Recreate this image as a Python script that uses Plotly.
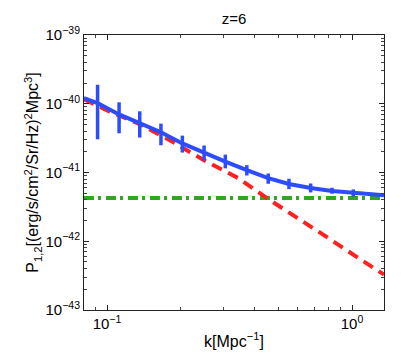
import plotly.graph_objects as go

# ---- data ----
k_points = [0.0915, 0.112, 0.136, 0.166, 0.203, 0.249, 0.304, 0.372, 0.455, 0.553, 0.678, 0.829, 1.012]
p_points = [1.02e-40, 7.0e-41, 5.3e-41, 3.85e-41, 2.65e-41, 1.92e-41, 1.44e-41, 1.08e-41,
            8.3e-42, 6.8e-42, 5.95e-42, 5.4e-42, 5.05e-42]
p_upper = [1.89e-40, 1.05e-40, 7.76e-41, 5.14e-41, 3.44e-41, 2.47e-41, 1.82e-41, 1.28e-41,
           9.67e-42, 8.11e-42, 6.92e-42, 6.0e-42, 5.67e-42]
p_lower = [3.04e-41, 3.72e-41, 3.22e-41, 2.49e-41, 1.95e-41, 1.49e-41, 1.15e-41, 9.04e-42,
           6.86e-42, 5.73e-42, 5.13e-42, 4.91e-42, 4.48e-42]

k_total = [0.0805] + k_points + [1.351]
p_total = [1.21e-40] + p_points + [4.67e-42]

k_red = [0.0805, 0.1, 0.1338, 0.1774, 0.2489, 0.3424, 0.454, 0.6019, 0.798, 1.058, 1.351]
p_red = [1.166e-40, 7.99e-41, 5.18e-41, 3.05e-41, 1.508e-41, 8.32e-42, 4.14e-42, 2.19e-42,
         1.12e-42, 5.74e-43, 3.27e-43]

k_green = [0.0805, 1.351]
p_green = [4.26e-42, 4.26e-42]

x_tickvals = [0.1, 1.0]
x_ticktext = ["10<sup>−1</sup>", "10<sup>0</sup>"]
y_tickvals = [1e-43, 1e-42, 1e-41, 1e-40, 1e-39]
y_ticktext = ["10<sup>−43</sup>", "10<sup>−42</sup>", "10<sup>−41</sup>", "10<sup>−40</sup>", "10<sup>−39</sup>"]

# minor tick positions (2..9 within each decade)
x_minor = [m * d for d in (0.01, 0.1, 1.0) for m in range(2, 10)]
y_minor = [m * d for d in (1e-43, 1e-42, 1e-41, 1e-40) for m in range(2, 10)]

BLUE = "#2c4dff"
RED = "#ff2020"
GREEN = "#2ea81e"
FONT = "Liberation Sans, Arial, Helvetica, sans-serif"

fig = go.Figure()

fig.add_trace(go.Scatter(x=k_green, y=p_green, mode="lines",
                         line=dict(color=GREEN, width=4, dash="10px,4px,3px,5px"),
                         showlegend=False, hoverinfo="skip"))
fig.add_trace(go.Scatter(x=k_red, y=p_red, mode="lines",
                         line=dict(color=RED, width=4, dash="11px,7px"),
                         showlegend=False, hoverinfo="skip"))
fig.add_trace(go.Scatter(x=k_total, y=p_total, mode="lines",
                         line=dict(color=BLUE, width=4),
                         showlegend=False, hoverinfo="skip"))
fig.add_trace(go.Scatter(
    x=k_points, y=p_points, mode="markers",
    marker=dict(size=1, color=BLUE),
    error_y=dict(type="data", symmetric=False,
                 array=[u - p for u, p in zip(p_upper, p_points)],
                 arrayminus=[p - l for l, p in zip(p_lower, p_points)],
                 color=BLUE, thickness=3.5, width=0),
    showlegend=False, hoverinfo="skip"))

axis_common = dict(
    type="log", showline=True, linecolor="#222", linewidth=1, mirror="allticks",
    ticks="inside", ticklen=5, tickcolor="#222", showgrid=False, zeroline=False,
    tickfont=dict(family=FONT, size=15, color="black"),
)

fig.update_layout(
    width=415, height=354,
    margin=dict(l=76, r=39, t=27, b=52),
    paper_bgcolor="white", plot_bgcolor="white",
    font=dict(family=FONT, size=14, color="black"),
    title=dict(text="z=6", x=0.5445, xanchor="center", y=0.985, yanchor="top",
               font=dict(family=FONT, size=15, color="black")),
    xaxis=dict(axis_common, range=[-1.094, 0.1306], tickvals=x_tickvals, ticktext=x_ticktext,
               minor=dict(ticks="inside", ticklen=3, tickcolor="#444", showgrid=False,
                          tickvals=x_minor),
               title=dict(text="k[Mpc<sup>−1</sup>]", standoff=4,
                          font=dict(family=FONT, size=16, color="black"))),
    yaxis=dict(axis_common, range=[-43, -39], tickvals=y_tickvals, ticktext=y_ticktext,
               minor=dict(ticks="inside", ticklen=3, tickcolor="#444", showgrid=False,
                          tickvals=y_minor),
               title=dict(text="P<sub>1,2</sub>[(erg/s/cm<sup>2</sup>/Sr/Hz)<sup>2</sup>Mpc<sup>3</sup>]",
                          standoff=2, font=dict(family=FONT, size=16, color="black"))),
)

fig.write_html("out.html")
